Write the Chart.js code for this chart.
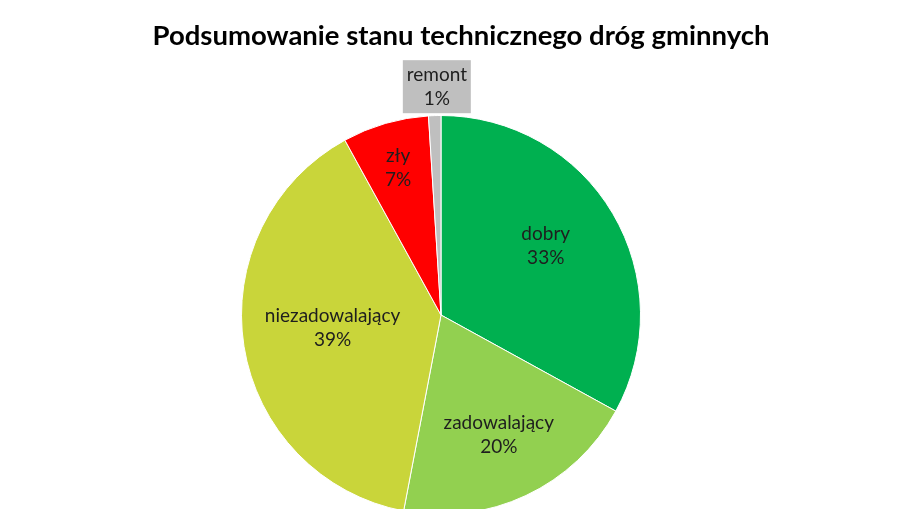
<!DOCTYPE html>
<html>
<head>
<meta charset="utf-8">
<script src="https://cdn.jsdelivr.net/npm/chart.js@4"></script>
<style>
    html, body { margin: 0; padding: 0; background: #ffffff; overflow: hidden; }
    #wrap { width: 903px; height: 560px; position: relative; }
</style>
</head>
<body>
<div id="wrap"><canvas id="pieChart"></canvas></div>
<script>
// chart values
const categories = ['dobry', 'zadowalający', 'niezadowalający', 'zły', 'remont'];
const shares = [33, 20, 39, 7, 1];
const colors = ['#00B050', '#92D050', '#C9D53A', '#FF0000', '#BFBFBF'];
const titleText = 'Podsumowanie stanu technicznego dróg gminnych';

// how far from the centre each label sits (fraction of radius) + small nudges in px
const labelRadius = [0.61, 0.68, 0.55, 0.77, 1.145];
const labelNudge = [[0, -7], [0, -3], [0, -4], [0, 0], [3, 0]];

// title + "name / xx%" labels like the spreadsheet does
const sliceLabels = {
    id: 'sliceLabels',
    afterDatasetsDraw(chart) {
        const ctx = chart.ctx;
        const meta = chart.getDatasetMeta(0);
        ctx.save();
        ctx.textAlign = 'center';
        ctx.textBaseline = 'middle';

        ctx.font = 'bold 27.5px Lato';
        ctx.fillStyle = '#000000';
        ctx.fillText(titleText, 461, 36);

        ctx.font = '19px Lato';
        meta.data.forEach((arc, i) => {
            const mid = (arc.startAngle + arc.endAngle) / 2;
            const r = arc.outerRadius * labelRadius[i];
            const x = arc.x + Math.cos(mid) * r + labelNudge[i][0];
            const y = arc.y + Math.sin(mid) * r + labelNudge[i][1];
            const pct = shares[i] + '%';
            if (labelRadius[i] > 1) {
                // outside label gets a grey box
                const w = 68, h = 53;
                ctx.fillStyle = colors[i];
                ctx.fillRect(x - w / 2, y - h / 2, w, h);
            }
            ctx.fillStyle = '#1e1e1e';
            ctx.fillText(categories[i], x, y - 12);
            ctx.fillText(pct, x, y + 12);
        });
        ctx.restore();
    }
};

const pieChart = new Chart(document.getElementById('pieChart'), {
    type: 'pie',
    data: {
        labels: categories,
        datasets: [{
            data: shares,
            backgroundColor: colors,
            borderColor: '#ffffff',
            borderWidth: 1
        }]
    },
    options: {
        responsive: true,
        maintainAspectRatio: false,
        animation: false,
        layout: {
            padding: { left: 0, right: 21, top: 115, bottom: 45 }
        },
        plugins: {
            legend: { display: false },
            tooltip: { enabled: false },
            title: { display: false }
        }
    },
    plugins: [sliceLabels]
});
</script>
</body>
</html>
